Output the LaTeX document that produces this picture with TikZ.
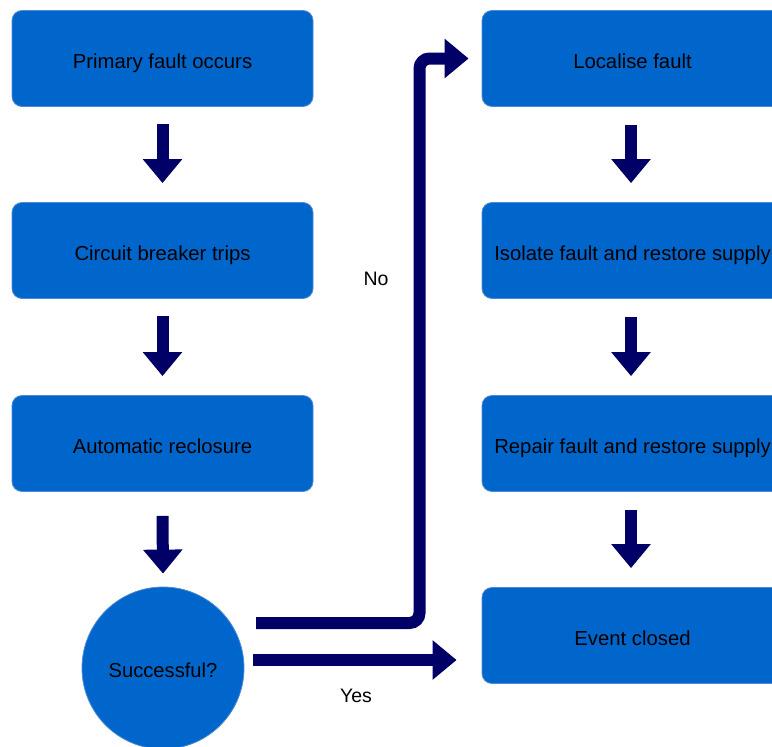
\documentclass[tikz,border=0pt]{standalone}
\usepackage{fontspec}
\setmainfont{Liberation Sans}
\usetikzlibrary{arrows.meta,calc}
\definecolor{boxblue}{HTML}{0066CC}
\definecolor{boxedge}{HTML}{4F8AD4}
\definecolor{navy}{HTML}{000066}
\begin{document}
\begin{tikzpicture}[x=1pt,y=-1pt,
  stepbox/.style={draw=boxedge,line width=0.8pt,fill=boxblue,rounded corners=10pt,
    minimum width=301pt,minimum height=96pt,inner sep=0pt,text height=19pt,text depth=0pt,
    font=\fontsize{20.3}{24}\selectfont,text=black},
  decision/.style={draw=boxedge,line width=0.8pt,fill=boxblue,circle,minimum size=162pt,inner sep=0pt,
    text height=18pt,text depth=0pt,
    font=\fontsize{20.2}{24}\selectfont,text=black},
  blockarrow/.style={draw=navy,line width=12pt,-{Triangle[width=38pt,length=24pt]}},
  lbl/.style={font=\fontsize{19.5}{23}\selectfont,text=black}]
\useasboundingbox (0,0) rectangle (772,747);
\clip (0,0) rectangle (772,747);
\node[stepbox] (l1) at (162.5,58.5) {Primary fault occurs};
\node[stepbox] (l2) at (162.5,250.5) {Circuit breaker trips};
\node[stepbox] (l3) at (162.5,443.5) {Automatic reclosure};
\node[decision] (c) at (163,668) {Successful?};
\node[stepbox] (r1) at (632.5,58.5) {Localise fault};
\node[stepbox] (r2) at (632.5,250.5) {Isolate fault and restore supply};
\node[stepbox] (r3) at (632.5,443.5) {Repair fault and restore supply};
\node[stepbox] (r4) at (632.5,635.5) {Event closed};
% vertical arrows
\draw[blockarrow] ([yshift=-17pt]l1.south) -- ([yshift=19pt]l2.north);
\draw[blockarrow] ([yshift=-17pt]l2.south) -- ([yshift=19pt]l3.north);
\draw[blockarrow] ([yshift=-24pt]l3.south) -- ([yshift=13pt]c.north);
\draw[blockarrow] ([xshift=-1.5pt,yshift=-18pt]r1.south) -- ([xshift=-1.5pt,yshift=19pt]r2.north);
\draw[blockarrow] ([xshift=-1.5pt,yshift=-18pt]r2.south) -- ([xshift=-1.5pt,yshift=19pt]r3.north);
\draw[blockarrow] ([xshift=-1.5pt,yshift=-18pt]r3.south) -- ([xshift=-1.5pt,yshift=19pt]r4.north);
% No branch
\coordinate (noStart) at (256,623);
\coordinate (noTurn) at (419.5,58.5);
\draw[blockarrow,rounded corners=10pt] (noStart) -| (noTurn) -- ([xshift=-13pt]r1.west);
% Yes branch
\coordinate (yesStart) at (253,660);
\draw[blockarrow] (yesStart) -- ([xshift=-25pt]yesStart -| r4.west);
\node[lbl] (no) at (376,279) {No};
\node[lbl] (yes) at (356,696) {Yes};
\end{tikzpicture}
\end{document}
